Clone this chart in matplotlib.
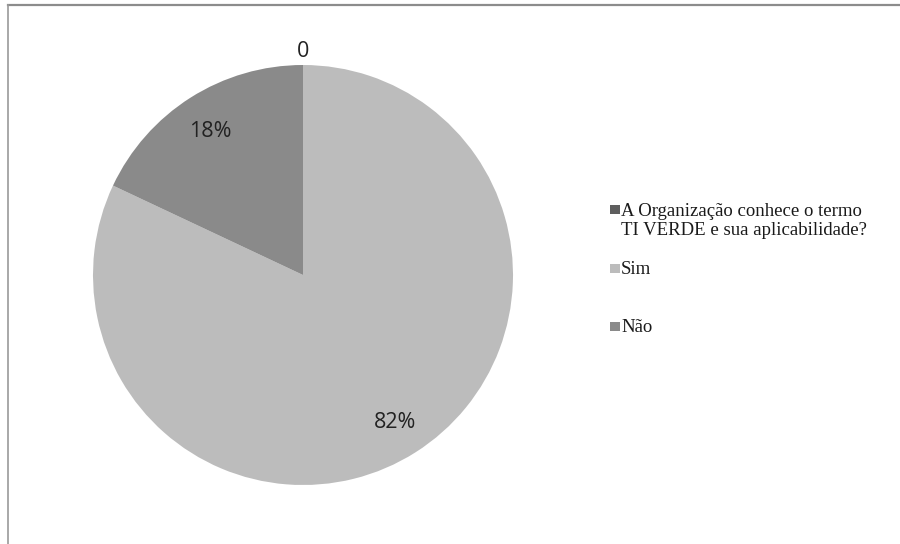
import numpy as np
import matplotlib
matplotlib.use("Agg")
from matplotlib import pyplot as plt
from matplotlib.lines import Line2D
from matplotlib.patches import Rectangle
from matplotlib.transforms import offset_copy

categories = ["A Organização conhece o termo\nTI VERDE e sua aplicabilidade?", "Sim", "Não"]
values = [0, 82, 18]
colors = ["#5e5e5e", "#bcbcbc", "#8a8a8a"]

W, H = 900, 544
fig = plt.figure(figsize=(W / 100, H / 100), dpi=100)
fig.patch.set_facecolor("white")

# pie centred at (303, 275) px, radius 210 px
cx, cy, r = 303, 275, 210
ax = fig.add_axes([(cx - r) / W, (H - cy - r) / H, 2 * r / W, 2 * r / H])

def fmt(p):
    return "" if p == 0 else "%d%%" % round(p)

wedges, texts, autotexts = ax.pie(values, colors=colors, startangle=90, counterclock=False,
                                  labels=["0", "", ""], labeldistance=1.075,
                                  autopct=fmt, pctdistance=0.82,
                                  textprops=dict(family="Open Sans", fontsize=15.5, color="#222222"))
texts[0].set_ha("center")
# glyphs sit a bit high with va=center, push them down a few px
for t in list(texts) + list(autotexts):
    t.set_transform(offset_copy(ax.transData, fig=fig, x=0, y=-2, units="dots"))
ax.set_xlim(-1, 1)
ax.set_ylim(-1, 1)
ax.set_aspect("equal")
ax.axis("off")

# legend, laid out like the Excel one (square on first text line)
line_h = 20
squares_y = [215, 274, 331.5]
for lab, w, yb in zip(categories, wedges, squares_y):
    fig.add_artist(Rectangle((610 / W, 1 - (yb - 1) / H), 9.5 / W, 9 / H,
                             transform=fig.transFigure, facecolor=w.get_facecolor(),
                             edgecolor="none"))
    # va=baseline anchors the last line
    last = yb + line_h * lab.count("\n")
    fig.text(621 / W, 1 - last / H, lab, family="Liberation Serif", fontsize=13.5,
             color="#1a1a1a", ha="left", va="baseline", linespacing=1.18)

# frame fragment: top and left border
fig.add_artist(Line2D([8 / W, 1], [1 - 5 / H, 1 - 5 / H], color="#8c8c8c", lw=1.6))
fig.add_artist(Line2D([8 / W, 8 / W], [0, 1 - 5 / H], color="#9a9a9a", lw=1.2))

fig.savefig("out.png", dpi=100)
